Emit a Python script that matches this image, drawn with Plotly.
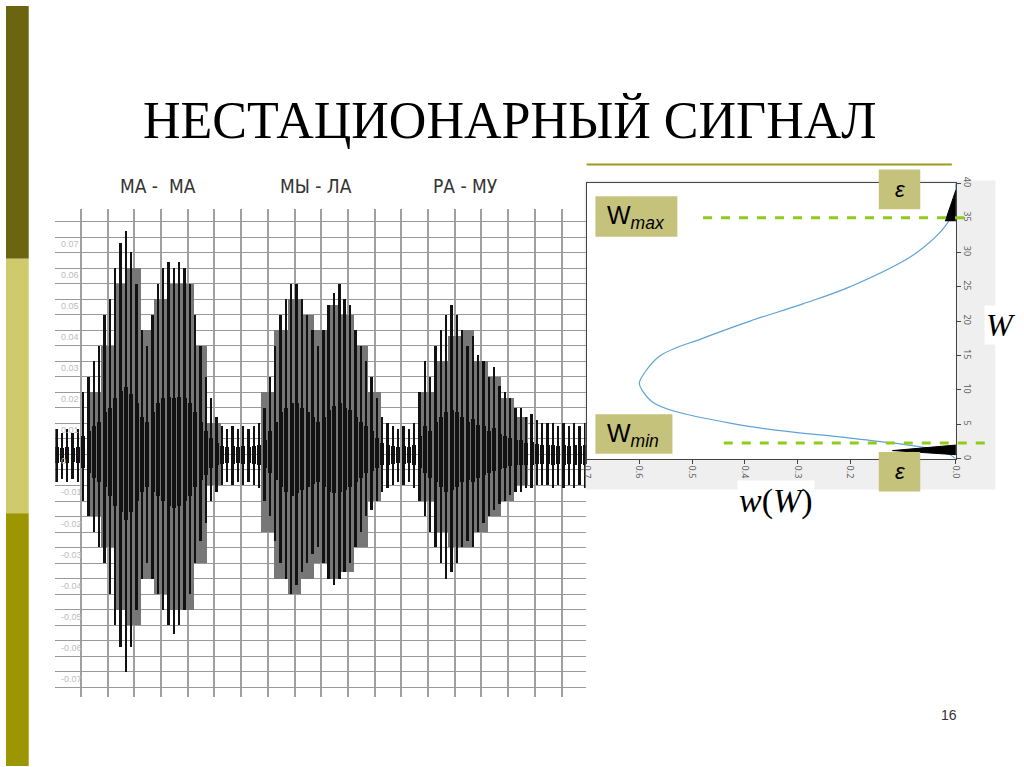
import numpy as np
import plotly.graph_objects as go

W_PX, H_PX = 1024, 767
def fx(p): return p / W_PX
def fy(p): return 1 - p / H_PX

# ---- waveform data (spike amplitudes) ----
t_start, t_step = -0.9, 0.2
black_up = [0.008,0.007,0.008,0.007,0.008,
    0.02,0.025,0.03,0.035,0.045,0.05,0.06,0.068,0.072,0.065,0.055,0.04,0.035,0.045,0.055,0.06,0.062,0.06,0.062,0.06,0.055,0.045,0.035,0.025,0.018,0.012,
    0.009,0.008,0.009,0.008,0.009,0.008,0.009,0.01,
    0.015,0.025,0.035,0.045,0.05,0.055,0.055,0.05,0.045,0.04,0.035,0.04,0.048,0.052,0.055,0.05,0.048,0.04,0.035,0.03,0.025,0.018,0.012,0.01,
    0.009,0.008,0.009,0.008,0.01,
    0.02,0.03,0.025,0.035,0.04,0.045,0.048,0.045,0.04,0.035,0.038,0.032,0.03,0.025,0.028,0.022,0.02,0.018,0.015,0.015,0.012,0.013,0.011,0.01,0.01,
    0.01,0.009,0.01,0.009,0.01,0.009,0.01]
black_dn = [-0.009,-0.008,-0.009,-0.008,-0.009,
    -0.015,-0.02,-0.025,-0.03,-0.035,-0.045,-0.055,-0.062,-0.07,-0.062,-0.05,-0.04,-0.035,-0.04,-0.045,-0.05,-0.055,-0.058,-0.055,-0.05,-0.045,-0.035,-0.028,-0.022,-0.015,-0.012,
    -0.01,-0.009,-0.01,-0.009,-0.01,-0.009,-0.01,-0.011,
    -0.015,-0.02,-0.028,-0.035,-0.04,-0.045,-0.042,-0.038,-0.035,-0.032,-0.03,-0.035,-0.04,-0.042,-0.04,-0.038,-0.035,-0.03,-0.025,-0.02,-0.018,-0.015,-0.012,-0.011,
    -0.01,-0.009,-0.01,-0.009,-0.011,
    -0.015,-0.02,-0.025,-0.03,-0.035,-0.04,-0.038,-0.035,-0.03,-0.028,-0.03,-0.025,-0.022,-0.02,-0.018,-0.016,-0.015,-0.013,-0.012,-0.012,-0.011,-0.011,-0.01,-0.01,-0.01,
    -0.011,-0.01,-0.011,-0.01,-0.011,-0.01,-0.011]
t_black = t_start + t_step * np.arange(len(black_up))

g_start, g_step = -0.5, 0.5
gray_up = [0,0,0.02,0.035,0.055,0.06,0.04,0.05,0.055,0.055,0.035,0.01,0,0,0,0.02,0.04,0.05,0.045,0.04,0.048,0.045,0.035,0.02,0,0,0,0.02,0.03,0.038,0.04,0.03,0.025,0.018,0.012,0,0,0,0]
gray_dn = [0,0,-0.02,-0.03,-0.05,-0.055,-0.04,-0.045,-0.05,-0.05,-0.035,-0.01,0,0,0,-0.025,-0.04,-0.045,-0.04,-0.035,-0.04,-0.038,-0.03,-0.015,0,0,0,-0.015,-0.025,-0.03,-0.03,-0.025,-0.02,-0.015,-0.01,0,0,0,0]
t_gray = g_start + g_step * np.arange(len(gray_up))

syllables = ["МА -  МА", "МЫ - ЛА", "РА - МУ"]
syl_t = [2.9, 8.8, 14.4]
sig_ticks = [0.07,0.06,0.05,0.04,0.03,0.02,0.01,0,-0.01,-0.02,-0.03,-0.04,-0.05,-0.06,-0.07]

# ---- probability density data ----
W_vals = [0, 1, 2, 3, 5, 8, 10, 11, 12.5, 15, 17.5, 20, 22.5, 25, 30, 35, 40]
w_vals = [0.0, 0.02, 0.09, 0.2, 0.415, 0.57, 0.595, 0.6, 0.59, 0.56, 0.48, 0.39, 0.29, 0.2, 0.073, 0.01, 0.0]
tri_low_W = [0.6, 2.0, 1.2, 0.6]
tri_low_w = [0.0, 0.0, 0.12, 0.0]
tri_top_W = [34.5, 39, 34.5]
tri_top_w = [0.0, 0.0, 0.02]
Wmax, Wmin = 35, 2.3

fig = go.Figure()
fig.add_trace(go.Bar(x=t_gray, y=np.array(gray_up) - np.array(gray_dn), base=gray_dn,
                     width=0.5, marker=dict(color="#777777", line=dict(width=0)),
                     xaxis="x", yaxis="y", showlegend=False))
fig.add_trace(go.Bar(x=t_black, y=np.array(black_up) - np.array(black_dn), base=black_dn,
                     width=0.07, marker=dict(color="#111", line=dict(width=0)),
                     xaxis="x", yaxis="y", showlegend=False))
fig.add_trace(go.Bar(x=t_black, y=np.array(black_up)*0.3 - np.array(black_dn)*0.3, base=np.array(black_dn)*0.3,
                     width=0.15, marker=dict(color="#111", line=dict(width=0)),
                     xaxis="x", yaxis="y", showlegend=False))

fig.add_trace(go.Scatter(x=w_vals, y=W_vals, mode="lines", line=dict(color="#5ea3d6", width=1.2, shape="spline"),
                         xaxis="x2", yaxis="y2", showlegend=False))
for ww, WW in [(tri_low_w, tri_low_W), (tri_top_w, tri_top_W)]:
    fig.add_trace(go.Scatter(x=ww, y=WW, mode="lines", fill="toself", fillcolor="black",
                             line=dict(color="black", width=1), xaxis="x2", yaxis="y2", showlegend=False))

shapes = []
for y0, y1, c in [(0, 255, "#6b6510"), (255, 512, "#cfca6c"), (512, 767, "#9c9600")]:
    shapes.append(dict(type="rect", xref="paper", yref="paper", x0=0, x1=fx(23), y0=fy(y1), y1=fy(y0),
                       fillcolor=c, line=dict(width=0), layer="below"))
shapes.append(dict(type="rect", xref="paper", yref="paper", x0=fx(586), x1=fx(1002), y0=fy(488), y1=fy(176),
                   fillcolor="#efefef", line=dict(width=0), layer="below"))
shapes.append(dict(type="rect", xref="paper", yref="paper", x0=fx(588), x1=fx(962), y0=fy(457), y1=fy(179),
                   fillcolor="white", line=dict(width=0), layer="below"))
shapes.append(dict(type="line", xref="paper", yref="paper", x0=fx(588), x1=fx(958), y0=fy(160), y1=fy(160),
                   line=dict(color="#9c9a1a", width=2)))
for W, xa, xb in [(Wmax, 706, 975), (Wmin, 727, 992)]:
    shapes.append(dict(type="line", xref="paper", yref="y2", x0=fx(xa), x1=fx(xb), y0=W, y1=W,
                       line=dict(color="#8fcc1a", width=3, dash="dash")))
boxes = [(884, 926, 165, 205), (884, 926, 450, 490), (597, 680, 192, 233), (597, 675, 412, 452)]
for x0, x1, y0, y1 in boxes:
    shapes.append(dict(type="rect", xref="paper", yref="paper", x0=fx(x0), x1=fx(x1), y0=fy(y1), y1=fy(y0),
                       fillcolor="#c5c27c", line=dict(width=0)))

def A(text, x, y, size, family="Liberation Sans", color="black", xref="paper", yref="paper", **kw):
    d = dict(text=text, x=x, y=y, xref=xref, yref=yref, showarrow=False, xanchor="center", yanchor="middle",
             font=dict(family=family, size=size, color=color))
    d.update(kw)
    return d

ann = [A("НЕСТАЦИОНАРНЫЙ СИГНАЛ", fx(510), fy(116), 52, "Liberation Serif")]
for s, t in zip(syllables, syl_t):
    ann.append(A(s, t, fy(182), 19, "DejaVu Sans Condensed, Liberation Sans", "#333", xref="x"))
for bx, by in [(905, 185), (905, 470)]:
    ann.append(A("<i>ε</i>", fx(bx), fy(by), 22))
ann.append(A("W<sub><i>max</i></sub>", fx(638), fy(213), 25))
ann.append(A("W<sub><i>min</i></sub>", fx(635), fy(433), 25))
ann.append(A("<i>w</i>(<i>W</i>)", fx(780), fy(500), 34, "Liberation Serif", bgcolor="white"))
ann.append(A("<i>W</i>", fx(1008), fy(322), 32, "Liberation Serif", bgcolor="white"))
ann.append(A("16", fx(955), fy(716), 14, color="#333"))
for v in sig_ticks:
    ann.append(A(f"{v:g}", fx(54), v, 9, "Liberation Sans", "#bbb", yref="y", xanchor="left", yshift=-7))

fig.update_layout(
    width=W_PX, height=H_PX, margin=dict(l=0, r=0, t=0, b=0),
    paper_bgcolor="white", plot_bgcolor="white", bargap=0, barmode="overlay",
    xaxis=dict(domain=[fx(50), fx(587)], range=[-0.96, 18.9], dtick=1, tick0=0, showticklabels=False,
               showgrid=True, gridcolor="#a0a0a0", gridwidth=1.5, zeroline=False),
    yaxis=dict(domain=[fy(697), fy(205)], range=[-0.078, 0.079], dtick=0.005, tick0=0, showticklabels=False,
               showgrid=True, gridcolor="#9a9a9a", gridwidth=1.3, zeroline=False),
    xaxis2=dict(domain=[fx(588), fx(962)], range=[0.7, 0], anchor="y2", dtick=0.1, tickangle=90,
                tickfont=dict(size=9, color="#555"), showgrid=False, zeroline=False, showline=True,
                linecolor="#444", ticks="outside", ticklen=4, mirror=True, tickformat=".1f"),
    yaxis2=dict(domain=[fy(457), fy(179)], range=[0, 40], anchor="x2", side="right", dtick=5, tickangle=90,
                tickfont=dict(size=9, color="#555"), showgrid=False, zeroline=False, showline=True,
                linecolor="#444", ticks="outside", ticklen=4, mirror=True),
    shapes=shapes, annotations=ann,
)
fig.write_html("out.html", config={"displayModeBar": False},
               post_script="document.body.style.margin='0';document.body.style.overflow='hidden';")
